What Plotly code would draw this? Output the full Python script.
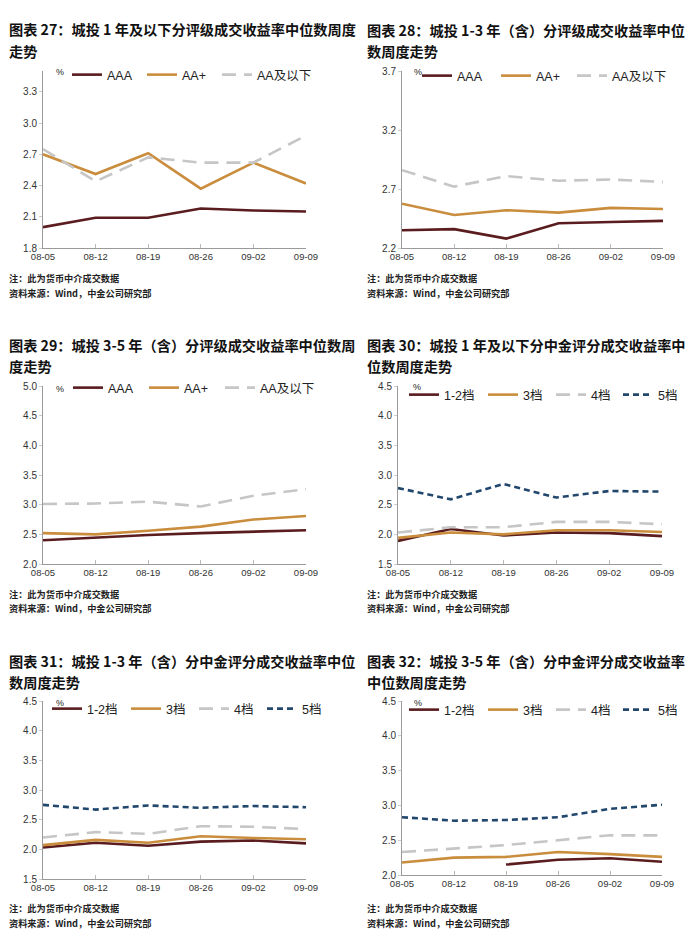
import plotly.graph_objects as go

dates = ["08-05", "08-12", "08-19", "08-26", "09-02", "09-09"]

# 图表27 城投1年及以下 分评级
c27_aaa = [2.00, 2.09, 2.09, 2.18, 2.16, 2.15]
c27_aap = [2.70, 2.51, 2.71, 2.37, 2.62, 2.42]
c27_aa = [2.75, 2.44, 2.67, 2.62, 2.62, 2.88]
# 图表28 城投1-3年 分评级
c28_aaa = [2.35, 2.36, 2.28, 2.41, 2.42, 2.43]
c28_aap = [2.575, 2.48, 2.52, 2.50, 2.54, 2.53]
c28_aa = [2.86, 2.72, 2.81, 2.77, 2.78, 2.76]
# 图表29 城投3-5年 分评级
c29_aaa = [2.40, 2.45, 2.49, 2.52, 2.54, 2.57]
c29_aap = [2.52, 2.50, 2.56, 2.63, 2.75, 2.81]
c29_aa = [3.01, 3.02, 3.05, 2.97, 3.15, 3.26]
# 图表30 城投1年及以下 中金评分
c30_g12 = [1.89, 2.09, 1.98, 2.03, 2.02, 1.97]
c30_g3 = [1.94, 2.03, 2.00, 2.07, 2.07, 2.04]
c30_g4 = [2.03, 2.12, 2.12, 2.21, 2.21, 2.17]
c30_g5 = [2.78, 2.59, 2.85, 2.62, 2.73, 2.72]
# 图表31 城投1-3年 中金评分
c31_g12 = [2.03, 2.11, 2.06, 2.13, 2.15, 2.10]
c31_g3 = [2.07, 2.16, 2.11, 2.22, 2.19, 2.17]
c31_g4 = [2.20, 2.29, 2.26, 2.39, 2.38, 2.34]
c31_g5 = [2.75, 2.67, 2.74, 2.70, 2.73, 2.71]
# 图表32 城投3-5年 中金评分
c32_g12 = [None, None, 2.15, 2.22, 2.24, 2.19]
c32_g3 = [2.18, 2.25, 2.26, 2.33, 2.30, 2.26]
c32_g4 = [2.33, 2.38, 2.43, 2.50, 2.57, 2.57]
c32_g5 = [2.83, 2.78, 2.79, 2.83, 2.95, 3.01]

rating_names = ["AAA", "AA+", "AA及以下"]
score_names = ["1-2档", "3档", "4档", "5档"]

titles = [
    ["图表 27：城投 1 年及以下分评级成交收益率中位数周度", "走势"],
    ["图表 28：城投 1-3 年（含）分评级成交收益率中位", "数周度走势"],
    ["图表 29：城投 3-5 年（含）分评级成交收益率中位数周", "度走势"],
    ["图表 30：城投 1 年及以下分中金评分成交收益率中", "位数周度走势"],
    ["图表 31：城投 1-3 年（含）分中金评分成交收益率中位", "数周度走势"],
    ["图表 32：城投 3-5 年（含）分中金评分成交收益率", "中位数周度走势"],
]
note1 = "注：此为货币中介成交数据"
note2 = "资料来源：Wind，中金公司研究部"

W, H = 700, 936
def px(x):
    return x / W
def py(y):
    return 1 - y / H

MAROON = "#5a1c1e"
GOLD = "#c98d3d"
GRAY = "#c6c6c6"
BLUE = "#22476d"
styles4 = [dict(color=MAROON, dash="solid"), dict(color=GOLD, dash="solid"),
           dict(color=GRAY, dash="14px,8px"), dict(color=BLUE, dash="6px,4px")]

panels = [
    dict(series=[c27_aaa, c27_aap, c27_aa], names=rating_names,
         xd=(43, 306), yd=(71, 248), rng=(1.8, 3.5), dtick=0.3, t0=1.8,
         tx=7, ty=(29, 51), ny=(278, 293), leg=(67, 75), lw=[30, 30, 60], pct=(60, 72)),
    dict(series=[c28_aaa, c28_aap, c28_aa], names=rating_names,
         xd=(402, 663), yd=(71, 248), rng=(2.2, 3.7), dtick=0.5, t0=2.2,
         tx=365, ty=(30, 51), ny=(278, 293), leg=(417, 76), lw=[34, 31, 60], pct=(418, 72)),
    dict(series=[c29_aaa, c29_aap, c29_aa], names=rating_names,
         xd=(43, 306), yd=(386, 564), rng=(2.0, 5.0), dtick=0.5, t0=2.0,
         tx=7, ty=(345, 366), ny=(594, 608), leg=(68, 388), lw=[31, 31, 60], pct=(60, 389)),
    dict(series=[c30_g12, c30_g3, c30_g4, c30_g5], names=score_names,
         xd=(398, 662), yd=(386, 564), rng=(1.5, 4.5), dtick=0.5, t0=1.5,
         tx=365, ty=(345, 366), ny=(594, 608), leg=(404, 395), lw=[34, 23, 22, 40], pct=(417, 387)),
    dict(series=[c31_g12, c31_g3, c31_g4, c31_g5], names=score_names,
         xd=(43, 306), yd=(701, 879), rng=(1.5, 4.5), dtick=0.5, t0=1.5,
         tx=7, ty=(661, 682), ny=(908, 923), leg=(47, 709), lw=[34, 23, 23, 40], pct=(60, 703)),
    dict(series=[c32_g12, c32_g3, c32_g4, c32_g5], names=score_names,
         xd=(402, 662), yd=(701, 875), rng=(2.0, 4.5), dtick=0.5, t0=2.0,
         tx=365, ty=(661, 682), ny=(908, 923), leg=(404, 710), lw=[34, 23, 22, 40], pct=(418, 703)),
]

FONT = "Liberation Sans, Arial, Noto Sans CJK SC, sans-serif"
CJK = "Noto Sans CJK SC, Liberation Sans, sans-serif"

fig = go.Figure()
layout = dict(width=W, height=H, margin=dict(l=0, r=0, t=0, b=0, autoexpand=False),
              paper_bgcolor="white", plot_bgcolor="white",
              font=dict(family=FONT, color="#333"), showlegend=True)
annotations = []

for i, p in enumerate(panels, start=1):
    xa = "x" if i == 1 else f"x{i}"
    ya = "y" if i == 1 else f"y{i}"
    lg = "legend" if i == 1 else f"legend{i}"
    for k, (vals, name) in enumerate(zip(p["series"], p["names"])):
        st = styles4[k]
        fig.add_trace(go.Scatter(
            x=dates, y=vals, name=name, mode="lines",
            line=dict(color=st["color"], width=2.6, dash=st["dash"]),
            xaxis=xa, yaxis=ya, legend=lg, legendwidth=p["lw"][k],
            connectgaps=False, hoverinfo="skip"))
    xkey = "xaxis" if i == 1 else f"xaxis{i}"
    ykey = "yaxis" if i == 1 else f"yaxis{i}"
    layout[xkey] = dict(domain=[px(p["xd"][0]), px(p["xd"][1])], anchor=ya,
                        type="category", range=[0, 5], showgrid=False, zeroline=False,
                        showline=True, linecolor="#9a9a9a", linewidth=1,
                        ticks="inside", ticklen=4, tickcolor="#bbbbbb", automargin=False,
                        tickfont=dict(size=9.5, color="#333"), fixedrange=True)
    layout[ykey] = dict(domain=[py(p["yd"][1]), py(p["yd"][0])], anchor=xa,
                        range=list(p["rng"]), tick0=p["t0"], dtick=p["dtick"],
                        tickformat=".1f", showgrid=False, zeroline=False,
                        showline=True, linecolor="#9a9a9a", linewidth=1,
                        ticks="outside", ticklen=3, tickcolor="#cccccc", automargin=False,
                        tickfont=dict(size=10, color="#333"), fixedrange=True)
    layout[lg] = dict(orientation="h", x=px(p["leg"][0]), y=py(p["leg"][1]),
                      xanchor="left", yanchor="middle", bgcolor="rgba(0,0,0,0)",
                      font=dict(size=12.5, color="#222", family=FONT),
                      itemwidth=30, tracegroupgap=0)
    for j, line in enumerate(titles[i - 1]):
        annotations.append(dict(text=line, x=px(p["tx"]), y=py(p["ty"][j]), xref="paper", yref="paper",
                                xanchor="left", yanchor="middle", showarrow=False,
                                font=dict(size=14.2, color="#111", family=CJK, weight="bold")))
    for j, line in enumerate([note1, note2]):
        annotations.append(dict(text=line, x=px(p["tx"]), y=py(p["ny"][j]), xref="paper", yref="paper",
                                xanchor="left", yanchor="middle", showarrow=False,
                                font=dict(size=9.2, color="#222", family=CJK, weight="bold")))
    annotations.append(dict(text="%", x=px(p["pct"][0]), y=py(p["pct"][1]), xref="paper", yref="paper",
                            xanchor="center", yanchor="middle", showarrow=False,
                            font=dict(size=9, color="#222", family=FONT)))

layout["annotations"] = annotations
fig.update_layout(**layout)
fig.write_html("out.html", config={"displayModeBar": False},
               post_script="document.body.style.margin='0px';")
